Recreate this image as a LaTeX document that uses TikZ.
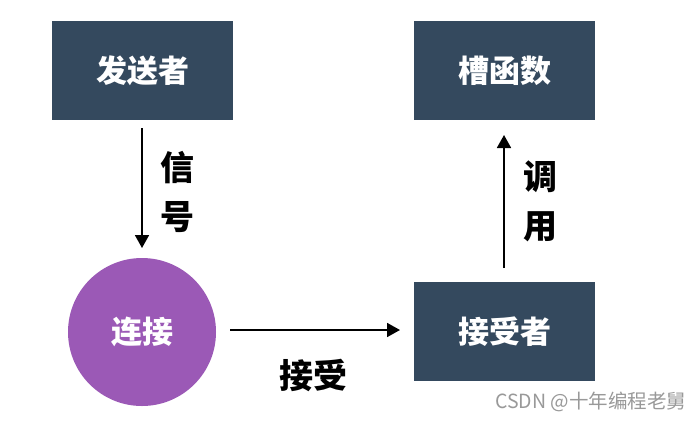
\documentclass[tikz,border=0pt]{standalone}
\usepackage{fontspec}
\newfontfamily\cjk{Noto Sans CJK SC}
\usetikzlibrary{arrows.meta}
\definecolor{boxc}{HTML}{34495E}
\definecolor{circc}{HTML}{9B59B6}
\begin{document}
\begin{tikzpicture}[x=1pt,y=-1pt,
  darkbox/.style={fill=boxc, draw=none, minimum width=181pt, minimum height=99pt, inner sep=0pt, text=white, font=\cjk\bfseries\fontsize{31}{34}\selectfont},
  conn/.style={draw=black, line width=1.8pt, -{Triangle[length=13pt,width=14pt]}},
  lbl/.style={font=\cjk\bfseries\fontsize{34}{38}\selectfont, text=black, inner sep=0pt}]
\useasboundingbox[fill=white] (0,0) rectangle (698,421);
\node[darkbox] (sender) at (142.5,70.5) {发送者};
\node[darkbox] (slot) at (504.5,70.5) {槽函数};
\node[darkbox] (recv) at (504.5,331.5) {接受者};
\node[circle, fill=circc, minimum size=148pt, inner sep=0pt, text=white, font=\cjk\bfseries\fontsize{31}{34}\selectfont] (conn) at (142,332) {连接};
\coordinate (a1s) at (142,128);
\coordinate (a1e) at (142,248);
\draw[conn] (a1s) -- (a1e);
\node[lbl] (l1) at (177,168) {信};
\node[lbl] (l2) at (177,217) {号};
\coordinate (a2s) at (230,330);
\coordinate (a2e) at (400,330);
\draw[conn] (a2s) -- (a2e);
\node[lbl] (l3) at (313,375) {接受};
\coordinate (a3s) at (504,268);
\coordinate (a3e) at (504,135);
\draw[conn] (a3s) -- (a3e);
\node[lbl] (l4) at (540,177) {调};
\node[lbl] (l5) at (540,227) {用};
\node[font=\cjk\fontsize{19.5}{22}\selectfont, text=black!40, inner sep=0pt, anchor=west] (wm) at (495,402) {CSDN @十年编程老舅};
\end{tikzpicture}
\end{document}
